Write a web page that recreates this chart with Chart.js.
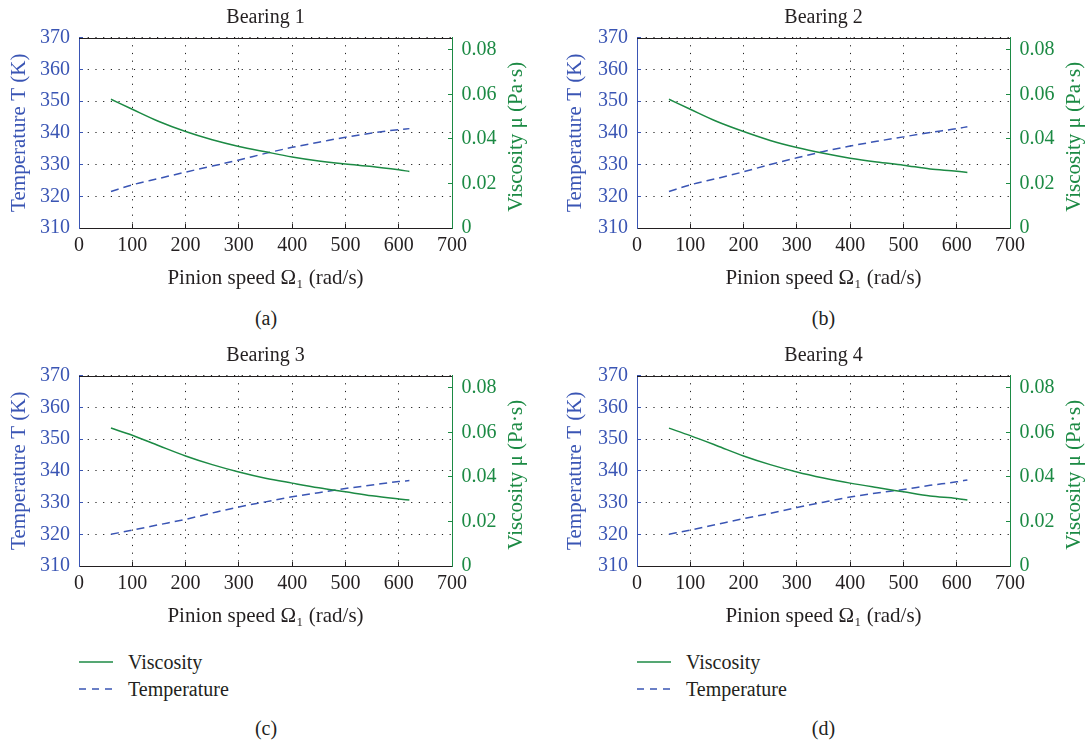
<!DOCTYPE html>
<html>
<head>
<meta charset="utf-8">
<script src="https://cdn.jsdelivr.net/npm/chart.js@4"></script>
<style>
  body { margin: 0; background: #fff; }
  #wrap { position: relative; width: 1087px; height: 742px; font-family: "Liberation Serif", serif; color: #231f20; }
  canvas { position: absolute; }
  .cap { position: absolute; font-size: 20px; transform: translate(-50%, -50%); white-space: nowrap; }
  .leg { position: absolute; font-size: 20px; white-space: nowrap; }
</style>
</head>
<body>
<div id="wrap">
  <canvas id="b1" width="545" height="300" style="left:0;top:0"></canvas>
  <canvas id="b2" width="542" height="300" style="left:545px;top:0"></canvas>
  <canvas id="b3" width="545" height="300" style="left:0;top:338px"></canvas>
  <canvas id="b4" width="542" height="300" style="left:545px;top:338px"></canvas>
</div>
<script>
// pinion speed (rad/s) where the curves were read
var speeds = [60, 100, 150, 200, 250, 300, 350, 400, 450, 500, 550, 600, 620];

// viscosity (Pa*s), right axis
var visc1 = [0.0578, 0.0533, 0.0478, 0.0433, 0.0396, 0.0366, 0.0342, 0.0319, 0.0301, 0.0287, 0.0276, 0.0261, 0.0254];
var visc2 = [0.0578, 0.0533, 0.0478, 0.0433, 0.0393, 0.0361, 0.0335, 0.0313, 0.0296, 0.0282, 0.0265, 0.0255, 0.0249];
var visc3 = [0.0619, 0.0587, 0.0540, 0.0494, 0.0455, 0.0422, 0.0394, 0.0372, 0.0351, 0.0333, 0.0315, 0.0301, 0.0296];
var visc4 = [0.0619, 0.0585, 0.0540, 0.0494, 0.0455, 0.0422, 0.0395, 0.0372, 0.0352, 0.0333, 0.0314, 0.0303, 0.0296];

// temperature (K), left axis
var temp1 = [321.5, 323.6, 325.6, 327.6, 329.5, 331.4, 333.5, 335.4, 337.0, 338.6, 339.9, 341.0, 341.3];
var temp2 = [321.5, 323.6, 325.6, 327.7, 330.0, 332.1, 334.1, 335.8, 337.3, 338.7, 340.1, 341.3, 341.9];
var temp3 = [320.0, 321.3, 323.0, 324.7, 326.7, 328.6, 330.2, 331.8, 333.1, 334.4, 335.5, 336.6, 336.9];
var temp4 = [320.0, 321.3, 323.1, 324.9, 326.6, 328.4, 330.1, 331.7, 333.0, 334.1, 335.4, 336.5, 337.1];

var titles = ["Bearing 1", "Bearing 2", "Bearing 3", "Bearing 4"];
var captions = ["(a)", "(b)", "(c)", "(d)"];
var seriesNames = ["Viscosity", "Temperature"];

var speedTicks = [0, 100, 200, 300, 400, 500, 600, 700];
var tempTicks = [310, 320, 330, 340, 350, 360, 370];
var viscTicks = [0, 0.02, 0.04, 0.06, 0.08];

var blue = "#3a55b4";
var green = "#1c8a44";
var ink = "#231f20";
var serif = '"Liberation Serif", serif';

Chart.defaults.font.family = serif;

// top frame line + right axis title reading bottom-to-top
var frame = {
  id: "frame",
  afterDraw: function(chart) {
    var ctx = chart.ctx, a = chart.chartArea, y1 = chart.scales.y1;
    ctx.save();
    ctx.strokeStyle = ink;
    ctx.lineWidth = 1;
    ctx.beginPath();
    ctx.moveTo(a.left, Math.round(a.top) + 0.5);
    ctx.lineTo(a.right, Math.round(a.top) + 0.5);
    ctx.stroke();
    ctx.translate(y1.left + 64, (a.top + a.bottom) / 2 + 4);
    ctx.rotate(-Math.PI / 2);
    ctx.fillStyle = green;
    ctx.font = "21px " + serif;
    ctx.textAlign = "center";
    ctx.textBaseline = "middle";
    ctx.fillText(y1.options.title.text, 0, 0);
    ctx.restore();
  }
};

function setTicks(list) {
  return function(scale) {
    scale.ticks = list.map(function(v) { return {value: v}; });
  };
}

function makeChart(id, title, visc, temp, leftW, rightW, leftTitlePad) {
  new Chart(id, {
    type: "line",
    data: {
      datasets: [{
        label: seriesNames[0],
        data: speeds.map(function(s, i) { return {x: s, y: visc[i]}; }),
        yAxisID: "y1",
        borderColor: green,
        borderWidth: 1.5,
        pointRadius: 0,
        cubicInterpolationMode: "monotone"
      }, {
        label: seriesNames[1],
        data: speeds.map(function(s, i) { return {x: s, y: temp[i]}; }),
        yAxisID: "y",
        borderColor: blue,
        borderWidth: 1.5,
        borderDash: [8, 5],
        pointRadius: 0,
        cubicInterpolationMode: "monotone"
      }]
    },
    options: {
      responsive: false,
      animation: false,
      layout: { padding: 0 },
      plugins: {
        legend: { display: false },
        tooltip: { enabled: false },
        title: {
          display: true,
          text: title,
          fullSize: false,
          color: ink,
          font: { size: 20, weight: "normal" },
          padding: { top: 6, bottom: 7.5 }
        }
      },
      scales: {
        x: {
          type: "linear",
          min: 0,
          max: 700,
          afterBuildTicks: setTicks(speedTicks),
          afterFit: function(s) { s.height = 72; },
          grid: { color: "#222", drawTicks: true, tickLength: -4, tickColor: ink },
          border: { color: ink, dash: [1.2, 6.5] },
          ticks: { color: ink, font: { size: 20 }, padding: 10, maxRotation: 0 },
          title: { display: true, text: "Pinion speed Ω₁ (rad/s)", color: ink, font: { size: 21 }, padding: { top: 0, bottom: 9 } }
        },
        y: {
          position: "left",
          min: 310,
          max: 370,
          afterBuildTicks: setTicks(tempTicks),
          afterFit: function(s) { s.width = leftW; },
          grid: { color: "#222", drawTicks: true, tickLength: -4, tickColor: blue },
          border: { color: blue, dash: [1.2, 6.5] },
          ticks: { color: blue, font: { size: 20 }, padding: 13 },
          title: { display: true, text: "Temperature T (K)", color: blue, font: { size: 21 }, padding: { top: leftTitlePad, bottom: 0 } }
        },
        y1: {
          position: "right",
          min: 0,
          max: 0.0855,
          afterBuildTicks: setTicks(viscTicks),
          afterFit: function(s) { s.width = rightW; },
          grid: { drawOnChartArea: false, drawTicks: true, tickLength: -4, tickColor: green },
          border: { color: green },
          ticks: { color: green, font: { size: 20 }, padding: 13.5 },
          title: { display: false, text: "Viscosity μ (Pa·s)" }
        }
      }
    },
    plugins: [frame]
  });
}

makeChart("b1", titles[0], visc1, temp1, 79, 93, 6.5);
makeChart("b2", titles[1], visc2, temp2, 92, 77, 17.5);
makeChart("b3", titles[2], visc3, temp3, 79, 93, 6.5);
makeChart("b4", titles[3], visc4, temp4, 92, 77, 17.5);

// sub-figure captions and the legends under (c) and (d)
var wrap = document.getElementById("wrap");
var capPos = [[266, 318], [823.5, 318], [266, 728], [823.5, 728]];
captions.forEach(function(t, i) {
  var d = document.createElement("div");
  d.className = "cap";
  d.textContent = t;
  d.style.left = capPos[i][0] + "px";
  d.style.top = capPos[i][1] + "px";
  wrap.appendChild(d);
});

var legendX = [79, 637];
var legendY = [662, 689];
var legendStyle = [[green, ""], [blue, "7 6"]];
legendX.forEach(function(x0) {
  seriesNames.forEach(function(name, j) {
    var y = legendY[j];
    var svg = document.createElementNS("http://www.w3.org/2000/svg", "svg");
    svg.setAttribute("width", "36");
    svg.setAttribute("height", "6");
    svg.style.position = "absolute";
    svg.style.left = x0 + "px";
    svg.style.top = (y - 3) + "px";
    var ln = document.createElementNS("http://www.w3.org/2000/svg", "line");
    ln.setAttribute("x1", "0"); ln.setAttribute("x2", "34");
    ln.setAttribute("y1", "3"); ln.setAttribute("y2", "3");
    ln.setAttribute("stroke", legendStyle[j][0]);
    ln.setAttribute("stroke-width", "1.5");
    if (legendStyle[j][1]) ln.setAttribute("stroke-dasharray", legendStyle[j][1]);
    svg.appendChild(ln);
    wrap.appendChild(svg);
    var t = document.createElement("div");
    t.className = "leg";
    t.textContent = name;
    t.style.left = (x0 + 49) + "px";
    t.style.top = (y - 12) + "px";
    t.style.lineHeight = "24px";
    wrap.appendChild(t);
  });
});
</script>
</body>
</html>
